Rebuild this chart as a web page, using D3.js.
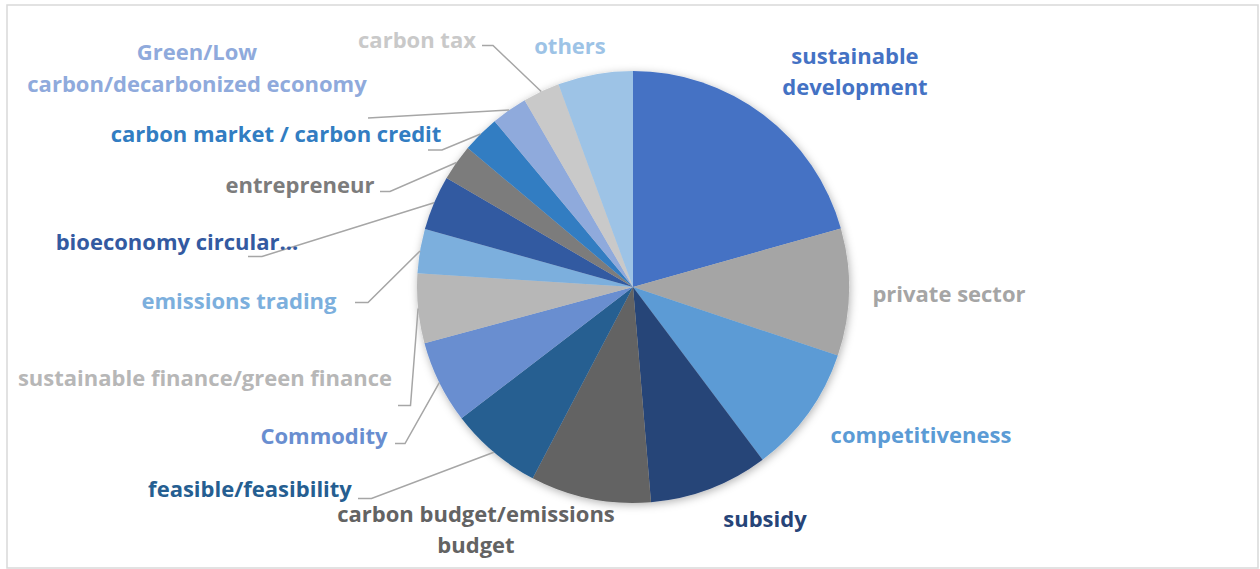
<!DOCTYPE html>
<html>
<head>
<meta charset="utf-8">
<script src="https://cdn.jsdelivr.net/npm/d3@7"></script>
<style>
  html, body { margin: 0; padding: 0; background: #ffffff; }
  svg { display: block; }
  text { font-family: "Open Sans", "Noto Sans", sans-serif; font-weight: 700; }
</style>
</head>
<body>
<svg id="chart" width="1260" height="569"></svg>
<script>
// Share of mentions per theme (percent), clockwise from 12 o'clock
const categories = [
  "sustainable development", "private sector", "competitiveness", "subsidy",
  "carbon budget/emissions budget", "feasible/feasibility", "Commodity",
  "sustainable finance/green finance", "emissions trading", "bioeconomy circular...",
  "entrepreneur", "carbon market / carbon credit", "Green/Low carbon/decarbonized economy",
  "carbon tax", "others"
];
const shares = [20.6, 9.5, 9.6, 8.9, 9.0, 6.9, 6.2, 5.2, 3.3, 4.1, 2.7, 2.8, 2.7, 2.75, 5.6];

// Label lines as they wrap in the chart
const labelLines = [
  ["sustainable", "development"], ["private sector"], ["competitiveness"], ["subsidy"],
  ["carbon budget/emissions", "budget"], ["feasible/feasibility"], ["Commodity"],
  ["sustainable finance/green finance"], ["emissions trading"], ["bioeconomy circular..."],
  ["entrepreneur"], ["carbon market / carbon credit"], ["Green/Low", "carbon/decarbonized economy"],
  ["carbon tax"], ["others"]
];

// Office-style blue/grey palette
const colors = [
  "#4472C4", "#A5A5A5", "#5B9BD5", "#264478", "#636363", "#255E91", "#698ED0",
  "#B7B7B7", "#7CAFDD", "#335AA1", "#7C7C7C", "#327DC2", "#8FAADC", "#C9C9C9", "#9DC3E6"
];

// Label placement: centre of the first text line, and where a leader line leaves the label
const labelPos = [
  {x: 855, y: 56, lh: 31},
  {x: 949, y: 294},
  {x: 921, y: 435},
  {x: 765, y: 519},
  {x: 476, y: 514, lh: 31},
  {x: 250, y: 489, leader: [[358, 498.5], [371.5, 498.5]]},
  {x: 324, y: 436, leader: [[395, 443.5], [405, 443.5]]},
  {x: 205, y: 378, leader: [[398, 405.5], [410.5, 405.5]]},
  {x: 239, y: 301, leader: [[355, 302.5], [368, 302.5]]},
  {x: 177, y: 242, leader: [[248, 256.5], [262, 256.5]]},
  {x: 300, y: 185, leader: [[380, 191.5], [390, 191.5]]},
  {x: 276, y: 134, leader: [[428, 150], [442, 150]]},
  {x: 197, y: 52, lh: 32, leader: [[368, 118]]},
  {x: 417, y: 40, leader: [[482, 45.5], [493, 45.5]]},
  {x: 570, y: 46}
];

const W = 1260, H = 569;
const cx = 633, cy = 287, R = 216;

const svg = d3.select("#chart");

// chart frame
svg.append("rect")
  .attr("x", 7).attr("y", 5)
  .attr("width", 1251).attr("height", 563)
  .attr("fill", "#ffffff")
  .attr("stroke", "#d9d9d9").attr("stroke-width", 1.5);

const defs = svg.append("defs");
const shadow = defs.append("filter").attr("id", "pieShadow")
  .attr("x", "-20%").attr("y", "-20%").attr("width", "140%").attr("height", "140%");
shadow.append("feDropShadow")
  .attr("dx", 1).attr("dy", 2).attr("stdDeviation", 4)
  .attr("flood-color", "#000").attr("flood-opacity", 0.3);

const pie = d3.pie().sort(null).value(d => d)(shares);
const arc = d3.arc().innerRadius(0).outerRadius(R);
const edge = d3.arc().innerRadius(R).outerRadius(R);

const g = svg.append("g").attr("transform", `translate(${cx},${cy})`);
g.append("g").attr("filter", "url(#pieShadow)")
  .selectAll("path")
  .data(pie)
  .join("path")
  .attr("d", arc)
  .attr("fill", (d, i) => colors[i]);

// leader lines from label to the slice edge
const line = d3.line();
pie.forEach((d, i) => {
  const lp = labelPos[i];
  if (!lp.leader) return;
  const c = edge.centroid(d);
  const pts = lp.leader.concat([[cx + c[0], cy + c[1]]]);
  svg.append("path")
    .attr("d", line(pts))
    .attr("fill", "none")
    .attr("stroke", "#a6a6a6")
    .attr("stroke-width", 1.5);
});

// labels
pie.forEach((d, i) => {
  const lp = labelPos[i];
  const t = svg.append("text")
    .attr("text-anchor", "middle")
    .attr("fill", colors[i])
    .attr("font-size", 22);
  labelLines[i].forEach((s, k) => {
    t.append("tspan")
      .attr("x", lp.x)
      .attr("y", lp.y + k * (lp.lh || 0))
      .attr("dy", "0.35em")
      .text(s);
  });
});
</script>
</body>
</html>
